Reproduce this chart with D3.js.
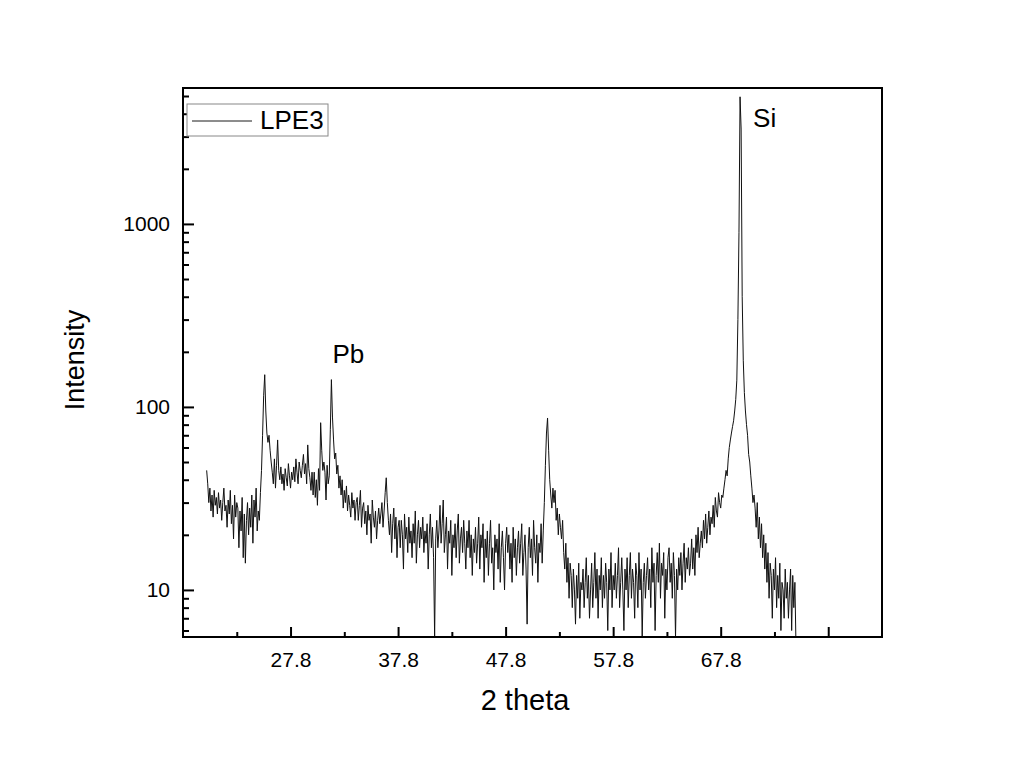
<!DOCTYPE html>
<html>
<head>
<meta charset="utf-8">
<script src="https://cdn.jsdelivr.net/npm/d3@7"></script>
<style>
  html, body { margin: 0; padding: 0; background: #fff; }
  svg { display: block; font-family: "Liberation Sans", Arial, sans-serif; }
</style>
</head>
<body>
<svg id="chart" width="1024" height="765"></svg>
<script>
// ---- data ----
const seriesName = "LPE3";
const thetaStart = 20.0;   // first sample, degrees 2θ
const thetaStep = 0.1;     // sampling step, degrees
const intensity = [
  // 20.0 - 20.9
  45, 38, 30, 36, 27, 33, 25, 35, 29, 32,
  // 21
  26, 34, 28, 31, 24, 30, 36, 27, 29, 22,
  // 22
  31, 26, 35, 23, 29, 19, 33, 25, 30, 28,
  // 23
  17, 27, 21, 32, 15, 26, 14, 24, 30, 20,
  // 24
  28, 22, 33, 18, 31, 25, 36, 21, 27, 24,
  // 25
  34, 45, 70, 115, 150, 95, 72, 64, 70, 58,
  // 26
  50, 44, 38, 52, 36, 48, 66, 45, 40, 47,
  // 27
  38, 43, 35, 46, 41, 37, 49, 42, 36, 44,
  // 28
  40, 47, 39, 52, 44, 38, 50, 45, 41, 48,
  // 29
  55, 43, 49, 38, 62, 46, 41, 35, 44, 33,
  // 30
  44, 32, 40, 29, 46, 35, 82, 58, 45, 50,
  // 31
  44, 31, 48, 38, 42, 75, 141, 88, 66, 52,
  // 32
  56, 43, 48, 36, 42, 33, 40, 28, 35, 30,
  // 33
  37, 27, 33, 29, 25, 34, 28, 31, 24, 30,
  // 34
  32, 24, 29, 35, 22, 28, 30, 23, 27, 20,
  // 35
  29, 24, 26, 18, 31, 25, 22, 27, 19, 24,
  // 36
  28, 23, 26, 30, 22, 27, 34, 41, 30, 24,
  // 37
  20, 26, 16, 23, 28, 19, 25, 15, 22, 24,
  // 38
  17, 24, 20, 13, 26, 19, 22, 16, 25, 18,
  // 39
  21, 15, 23, 18, 27, 14, 20, 24, 17, 22,
  // 40
  19, 25, 16, 21, 18, 23, 13, 20, 26, 17,
  // 41
  22, 15, 5.5, 19, 24, 17, 21, 29, 18, 23,
  // 42
  31, 16, 20, 25, 13, 21, 18, 24, 12, 20,
  // 43
  17, 23, 15, 21, 26, 14, 19, 22, 16, 24,
  // 44
  18, 13, 21, 17, 24, 15, 20, 12, 19, 16,
  // 45
  22, 14, 18, 25, 13, 20, 17, 23, 11, 19,
  // 46
  15, 21, 12, 18, 24, 14, 17, 10, 20, 16,
  // 47
  19, 13, 23, 11, 17, 21, 15, 10, 18, 22,
  // 48
  16, 20, 13, 18, 11, 22, 15, 19, 12, 17,
  // 49
  21, 14, 18, 23, 12, 16, 20, 13, 6.5, 17,
  // 50
  22, 15, 19, 12, 24, 17, 14, 20, 11, 18,
  // 51
  16, 23, 14, 21, 30, 48, 72, 87, 58, 40,
  // 52
  33, 28, 36, 30, 35, 24, 28, 20, 26, 22,
  // 53
  19, 24, 16, 13, 18, 11, 15, 9, 14, 12,
  // 54
  8, 13, 10, 6.5, 12, 9, 14, 7, 11, 10,
  // 55
  13, 8, 11, 15, 9, 12, 7, 10, 14, 8,
  // 56
  11, 16, 9, 13, 7, 12, 10, 15, 8, 12,
  // 57
  9, 14, 11, 6, 13, 10, 16, 8, 12, 10,
  // 58
  14, 9, 12, 17, 8, 11, 15, 10, 6, 13,
  // 59
  10, 15, 8, 12, 16, 9, 13, 11, 7, 14,
  // 60
  12, 8, 16, 10, 13, 5.5, 11, 14, 9, 12,
  // 61
  15, 10, 13, 8, 17, 11, 14, 6, 12, 16,
  // 62
  11, 18, 9, 14, 12, 16, 7, 13, 10, 15,
  // 63
  17, 11, 14, 9, 16, 12, 5.5, 13, 10, 15,
  // 64
  12, 16, 10, 14, 18, 11, 15, 13, 17, 12,
  // 65
  14, 19, 13, 17, 12, 20, 16, 22, 15, 18,
  // 66
  21, 17, 24, 19, 26, 18, 22, 27, 20, 25,
  // 67
  23, 29, 22, 32, 27, 25, 34, 30, 28, 33,
  // 68
  32, 36, 40, 45, 42, 52, 60, 66, 72, 78,
  // 69
  84, 95, 110, 140, 300, 900, 4950, 3300, 400, 180,
  // 70
  120, 95, 80, 70, 55, 50, 42, 36, 30, 33,
  // 71
  28, 22, 30, 19, 25, 17, 23, 15, 20, 13,
  // 72
  18, 11, 16, 9, 14, 12, 7, 13, 10, 15,
  // 73
  8, 12, 9, 14, 6, 11, 10, 7, 13, 9,
  // 74
  11, 7, 10, 13, 6, 12, 8, 11, 5, 4
];
const xMajorTicks = [27.8, 37.8, 47.8, 57.8, 67.8, 77.8];
const xTickLabels = ["27.8", "37.8", "47.8", "57.8", "67.8", ""];
const xMinorTicks = [22.8, 32.8, 42.8, 52.8, 62.8, 72.8];
const yMajorTicks = [10, 100, 1000];
const yMinorTicks = [6, 7, 8, 9, 20, 30, 40, 50, 60, 70, 80, 90,
                     200, 300, 400, 500, 600, 700, 800, 900, 2000, 3000, 4000, 5000];
const annotations = [
  { label: "Pb", theta: 31.7, value: 141 },
  { label: "Si", theta: 69.6, value: 4950 }
];

// ---- layout ----
const plot = { left: 183, right: 882, top: 88, bottom: 637 };
const svg = d3.select("#chart");

const x = d3.scaleLinear().domain([17.8, 82.8]).range([plot.left, plot.right]);
const y = d3.scaleLog().domain([5.53, 5530]).range([plot.bottom, plot.top]);

const points = intensity.map((v, i) => ({ t: thetaStart + i * thetaStep, v }));

svg.append("defs").append("clipPath").attr("id", "clip")
  .append("rect")
  .attr("x", plot.left).attr("y", plot.top)
  .attr("width", plot.right - plot.left).attr("height", plot.bottom - plot.top);

// data line
const line = d3.line().x(d => x(d.t)).y(d => y(d.v));
svg.append("path")
  .datum(points)
  .attr("clip-path", "url(#clip)")
  .attr("fill", "none")
  .attr("stroke", "#111")
  .attr("stroke-width", 1)
  .attr("stroke-linejoin", "round")
  .attr("d", line);

// x axis (ticks inward)
const gxMajor = svg.append("g")
  .attr("transform", `translate(0,${plot.bottom})`)
  .call(d3.axisBottom(x).tickValues(xMajorTicks)
    .tickFormat((d, i) => xTickLabels[i])
    .tickSizeInner(-10).tickSizeOuter(0).tickPadding(15));
const gxMinor = svg.append("g")
  .attr("transform", `translate(0,${plot.bottom})`)
  .call(d3.axisBottom(x).tickValues(xMinorTicks).tickFormat("")
    .tickSizeInner(-5).tickSizeOuter(0));

// y axis (ticks inward)
const gyMajor = svg.append("g")
  .attr("transform", `translate(${plot.left},0)`)
  .call(d3.axisLeft(y).tickValues(yMajorTicks).tickFormat(d3.format("d"))
    .tickSizeInner(-11).tickSizeOuter(0).tickPadding(13));
const gyMinor = svg.append("g")
  .attr("transform", `translate(${plot.left},0)`)
  .call(d3.axisLeft(y).tickValues(yMinorTicks).tickFormat("")
    .tickSizeInner(-6).tickSizeOuter(0));

[gxMajor, gxMinor, gyMajor, gyMinor].forEach(g => {
  g.select(".domain").remove();
  g.selectAll(".tick line").attr("stroke", "#000").attr("stroke-width", 2);
  g.selectAll(".tick text")
    .attr("fill", "#000")
    .style("font-size", "21px")
    .style("font-family", "'Liberation Sans', Arial, sans-serif");
});

// frame
svg.append("rect")
  .attr("x", plot.left).attr("y", plot.top)
  .attr("width", plot.right - plot.left).attr("height", plot.bottom - plot.top)
  .attr("fill", "none").attr("stroke", "#000").attr("stroke-width", 2);

// axis titles
svg.append("text")
  .attr("x", 525).attr("y", 710)
  .attr("text-anchor", "middle")
  .style("font-size", "29px")
  .text("2 theta");
svg.append("text")
  .attr("transform", `translate(84,${360}) rotate(-90)`)
  .attr("text-anchor", "middle")
  .style("font-size", "27px")
  .text("Intensity");

// annotations
svg.selectAll("text.annot")
  .data(annotations)
  .join("text")
  .attr("class", "annot")
  .attr("x", d => x(d.theta) + (d.label === "Pb" ? 0 : 13))
  .attr("y", d => y(d.value) + (d.label === "Pb" ? -17 : 30))
  .style("font-size", "26px")
  .text(d => d.label);

// legend
const leg = svg.append("g");
leg.append("rect")
  .attr("x", 187).attr("y", 104).attr("width", 141).attr("height", 32)
  .attr("fill", "#fff").attr("stroke", "#888").attr("stroke-width", 1);
leg.append("line")
  .attr("x1", 192).attr("x2", 252).attr("y1", 121).attr("y2", 121)
  .attr("stroke", "#1a1a1a").attr("stroke-width", 1);
leg.append("text")
  .attr("x", 260).attr("y", 129)
  .style("font-size", "26px")
  .text(seriesName);
</script>
</body>
</html>
